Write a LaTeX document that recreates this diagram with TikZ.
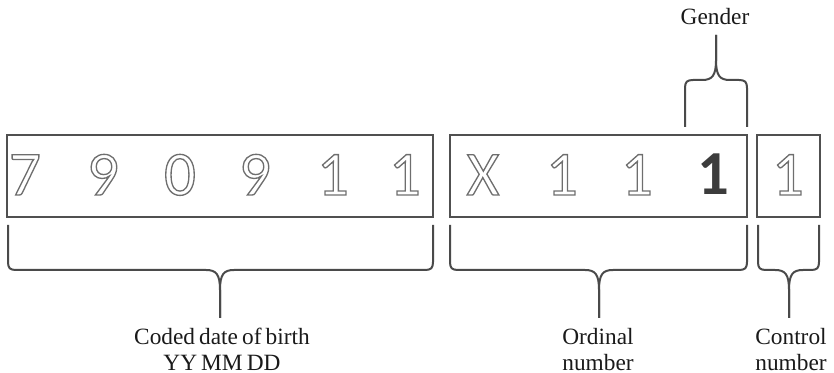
\documentclass[tikz,border=0pt]{standalone}
\usepackage{fontspec}
\setmainfont{Liberation Serif}[WordSpace=0.7]
\newfontfamily\digitfont{Carlito}
\definecolor{framegray}{HTML}{505050}
\definecolor{bracegray}{HTML}{4A4A4A}
\definecolor{digitgray}{HTML}{6E6E6E}
\definecolor{bolddigit}{HTML}{3C3C3C}
\definecolor{labeltext}{HTML}{1A1A1A}
\newcommand\outlinedigit[1]{\special{pdf:literal direct 1 Tr 1.0 w}#1\special{pdf:literal direct 0 Tr}}
% brace opening downwards: left x, right x, tip x, top y, bar y, tip y, sign
\newcommand\xbrace[7]{%
  \draw[bracepath] (#1,#4) -- (#1,{#5-#7*8}) .. controls (#1,{#5-#7*2}) and ({#1+2},#5) .. ({#1+8},#5)
     -- ({#3-14},#5) .. controls ({#3-4},#5) and (#3,{#5+#7*4}) .. (#3,{#5+#7*20}) -- (#3,#6);
  \draw[bracepath] (#2,#4) -- (#2,{#5-#7*8}) .. controls (#2,{#5-#7*2}) and ({#2-2},#5) .. ({#2-8},#5)
     -- ({#3+14},#5) .. controls ({#3+4},#5) and (#3,{#5+#7*4}) .. (#3,{#5+#7*20}) -- (#3,#6);
}
\tikzset{
  framebox/.style={draw=framegray, line width=2.1pt},
  bracepath/.style={draw=bracegray, line width=1.5pt},
  digit/.style={anchor=base, inner sep=0pt, text=digitgray, font=\digitfont\fontsize{47}{47}\selectfont},
  bolddig/.style={anchor=base, inner sep=0pt, text=bolddigit, font=\digitfont\bfseries\fontsize{47}{47}\selectfont},
  lbl/.style={anchor=base, inner sep=0pt, text=labeltext, font=\fontsize{17.5}{18}\selectfont}
}
\begin{document}
\begin{tikzpicture}[x=0.75pt, y=-0.75pt]
\useasboundingbox (0,0) rectangle (834,373);
% boxes
\draw[framebox] (7,135) rectangle (433,217);
\draw[framebox] (450,135) rectangle (747,217);
\draw[framebox] (757,135) rectangle (820,217);
% digits
\node[digit] (d1) at (25,195) {\outlinedigit{7}};
\node[digit] (d2) at (103,195) {\outlinedigit{9}};
\node[digit] (d3) at (180,195) {\outlinedigit{0}};
\node[digit] (d4) at (255,195) {\outlinedigit{9}};
\node[digit] (d5) at (333,195) {\outlinedigit{1}};
\node[digit] (d6) at (405,195) {\outlinedigit{1}};
\node[digit] (o1) at (483,195) {\outlinedigit{X}};
\node[digit] (o2) at (562,195) {\outlinedigit{1}};
\node[digit] (o3) at (637,195) {\outlinedigit{1}};
\node[bolddig] (o4) at (713,195) {1};
\node[digit] (c1) at (788,195) {\outlinedigit{1}};
% braces below
\xbrace{8}{433}{220}{225}{270}{318}{1}
\xbrace{450}{747}{599}{225}{270}{318}{1}
\xbrace{758}{819}{789}{225}{270}{318}{1}
% gender brace (upwards)
\xbrace{685}{747}{716}{127}{80}{35}{-1}
% labels
\node[lbl] (gender) at (715,25) {Gender};
\node[lbl] (cod1) at (222,345) {Coded date of birth};
\node[lbl] (cod2) at (222,370) {YY MM DD};
\node[lbl] (ord1) at (598,345) {Ordinal};
\node[lbl] (ord2) at (598,370) {number};
\node[lbl] (con1) at (791,345) {Control};
\node[lbl] (con2) at (791,370) {number};
\end{tikzpicture}
\end{document}
